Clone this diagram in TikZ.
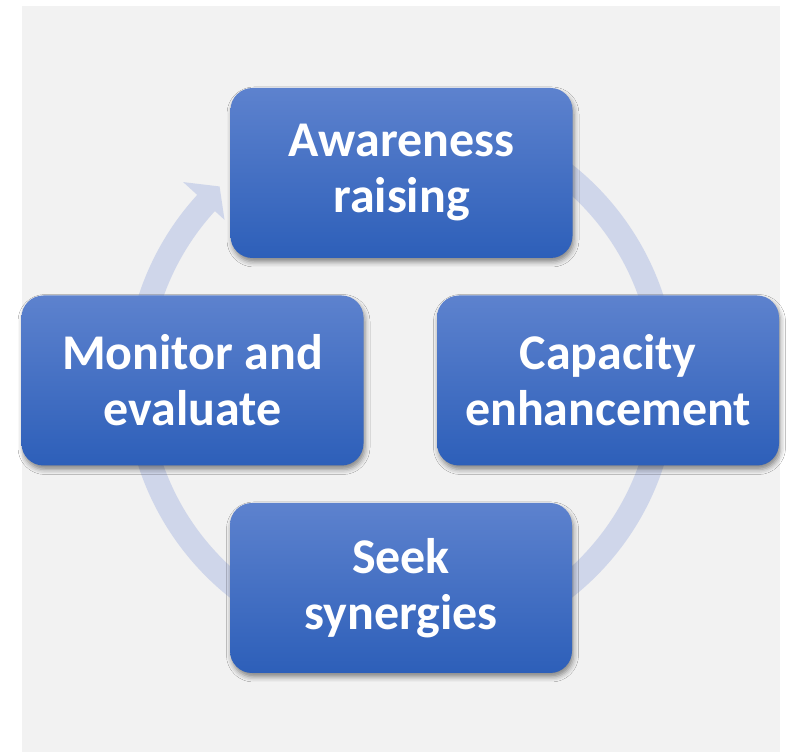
\documentclass[tikz,border=0pt]{standalone}
\usepackage{fontspec}
\setmainfont{Carlito}
\usetikzlibrary{calc,shadows.blur}
\definecolor{bg}{HTML}{F2F2F2}
\definecolor{boxtop}{RGB}{93,130,206}
\definecolor{boxbot}{RGB}{45,95,185}
\definecolor{ring}{RGB}{207,214,234}
\tikzset{
  stepbox/.style={rectangle, rounded corners=22pt, minimum width=342pt, minimum height=170pt,
    top color=boxtop, bottom color=boxbot, draw=none, text=white, align=center,
    font=\bfseries\fontsize{50}{56}\selectfont, inner sep=0pt,
    blur shadow={shadow xshift=1.5pt, shadow yshift=-4pt, shadow blur radius=5pt, shadow opacity=45}},
}
\begin{document}
\begin{tikzpicture}[x=1pt,y=1pt]
\useasboundingbox (0,0) rectangle (787,752);
\fill[white] (0,0) rectangle (787,752);
\fill[bg] (22,0) rectangle (780,746);
\coordinate (c) at (401,371);
% circular arrow
\fill[ring] ($(c)+(80:276pt)$) arc[start angle=80, end angle=-222.4, radius=276pt]
  -- ($(c)+(137.6:295pt)$) -- ($(c)+(133:266pt)$) -- ($(c)+(137.6:239pt)$)
  -- ($(c)+(137.6:252pt)$) arc[start angle=-222.4, end angle=80, radius=252pt] -- cycle;
\node[stepbox] (aw) at (401.5,579) {Awareness\\raising};
\node[stepbox] (cap) at (608,371.5) {Capacity\\enhancement};
\node[stepbox] (seek) at (401,164) {Seek\\synergies};
\node[stepbox] (mon) at (192.5,371.5) {Monitor and\\evaluate};
\end{tikzpicture}
\end{document}
